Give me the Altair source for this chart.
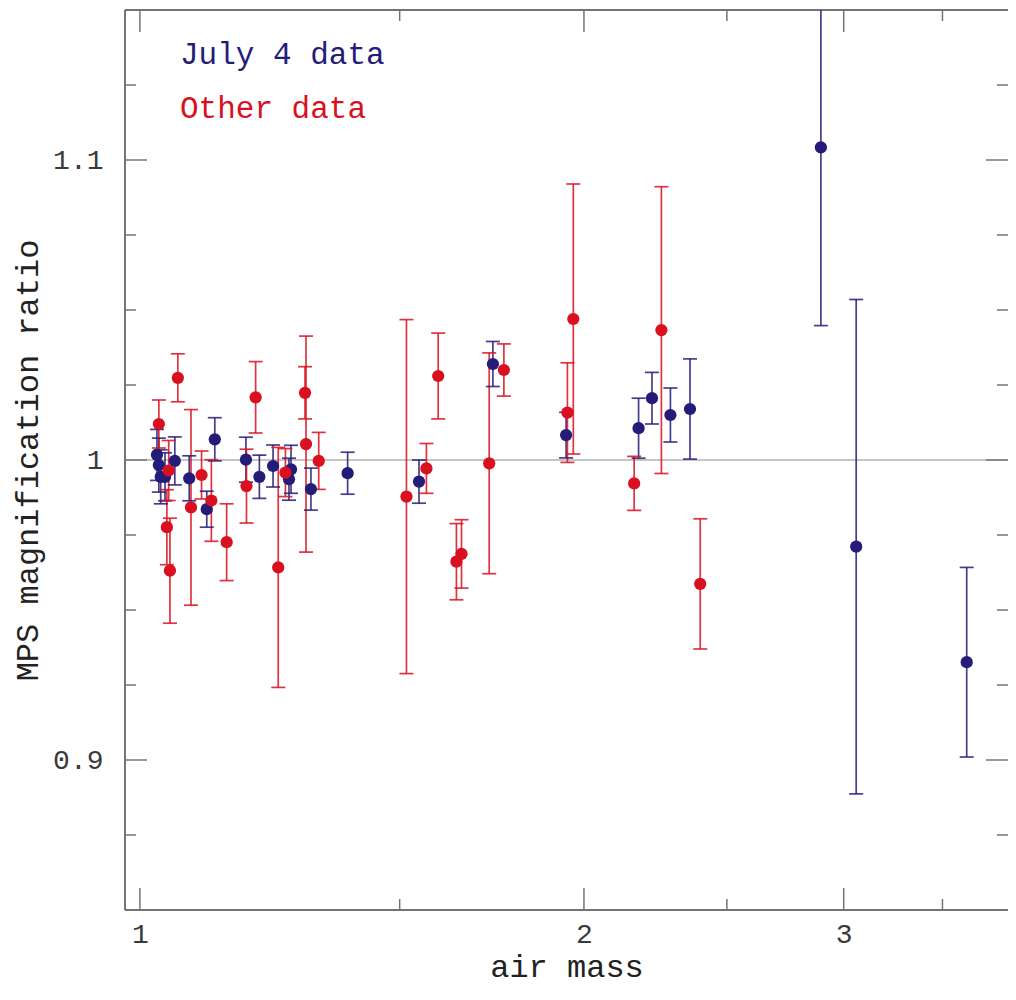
import altair as alt
import pandas as pd

# ---------------- data ----------------
series_names = ["July 4 data", "Other data"]

blue_airmass = [1.027, 1.030, 1.033, 1.040, 1.056, 1.080, 1.110, 1.124, 1.180,
                1.205, 1.231, 1.262, 1.266, 1.306, 1.383, 1.546, 1.735, 1.945,
                2.178, 2.224, 2.289, 2.360, 2.895, 3.059, 3.635]
blue_ratio = [1.0017, 0.9983, 0.9944, 0.9944, 0.9997, 0.9939, 0.9836, 1.0069, 1.0001,
              0.9944, 0.9980, 0.9936, 0.9969, 0.9903, 0.9956, 0.9928, 1.0320, 1.0083,
              1.0106, 1.0206, 1.0150, 1.0170, 1.1042, 0.9711, 0.9326]
blue_err = [0.0085, 0.0090, 0.0090, 0.0080, 0.0080, 0.0075, 0.0060, 0.0072, 0.0075,
            0.0072, 0.0070, 0.0070, 0.0080, 0.0070, 0.0070, 0.0072, 0.0075, 0.0076,
            0.0100, 0.0086, 0.0090, 0.0167, 0.0594, 0.0824, 0.0316]

red_airmass = [1.030, 1.061, 1.046, 1.043, 1.048, 1.083, 1.101, 1.118, 1.145,
               1.181, 1.198, 1.241, 1.255, 1.294, 1.296, 1.322, 1.516, 1.564,
               1.593, 1.639, 1.652, 1.725, 1.765, 1.949, 1.967, 2.163, 2.257, 2.398]
red_ratio = [1.0120, 1.0274, 0.9965, 0.9776, 0.9631, 0.9842, 0.9950, 0.9865, 0.9726,
             0.9913, 1.0209, 0.9642, 0.9958, 1.0224, 1.0053, 0.9997, 0.9878, 0.9972,
             1.0280, 0.9661, 0.9687, 0.9989, 1.0300, 1.0158, 1.0470, 0.9922, 1.0433,
             0.9587]
red_err = [0.0080, 0.0080, 0.0100, 0.0125, 0.0175, 0.0326, 0.0080, 0.0136, 0.0128,
           0.0123, 0.0119, 0.0400, 0.0080, 0.0087, 0.0360, 0.0095, 0.0590, 0.0083,
           0.0143, 0.0127, 0.0114, 0.0368, 0.0087, 0.0166, 0.0450, 0.0090, 0.0478,
           0.0217]

x_major_ticks = [1, 2, 3]
x_minor_ticks = [1.5, 2.5, 3.5]
y_major_ticks = [0.9, 1.0, 1.1]
y_minor_ticks = [0.875, 0.925, 0.95, 0.975, 1.025, 1.05, 1.075, 1.125]
reference_level = [1.0]

# ---------------- styling ----------------
W, H = 883, 900
X_DOMAIN = [0.977, 3.877]
Y_DOMAIN = [0.85, 1.15]
MONO = "Liberation Mono"
BLUE_PT, RED_PT = "#241c78", "#d9101f"
FRAME = "#747474"
TEXT = "#3a3a3a"
MAJOR_LEN, MINOR_LEN = 22, 11

# ---------------- tables ----------------
df = pd.concat([
    pd.DataFrame({"series": series_names[0], "airmass": blue_airmass,
                  "ratio": blue_ratio, "err": blue_err}),
    pd.DataFrame({"series": series_names[1], "airmass": red_airmass,
                  "ratio": red_ratio, "err": red_err}),
], ignore_index=True)
df["lo"] = df["ratio"] - df["err"]
df["hi"] = df["ratio"] + df["err"]

xs = alt.Scale(type="log", domain=X_DOMAIN, nice=False)
ys = alt.Scale(domain=Y_DOMAIN, nice=False, zero=False)
cs = alt.Scale(domain=series_names, range=[BLUE_PT, RED_PT])

x_axis = alt.Axis(values=x_major_ticks, format="~g", title="air mass",
                  labelPadding=10, titlePadding=3)
y_axis = alt.Axis(values=y_major_ticks, format="~g",
                  title="MPS magnification ratio",
                  labelPadding=22, titlePadding=8)

base = alt.Chart(df)

err_rules = base.mark_rule(strokeWidth=1.7, opacity=0.85, clip=True).encode(
    x=alt.X("airmass:Q", scale=xs, axis=x_axis),
    y=alt.Y("lo:Q", scale=ys, axis=y_axis),
    y2="hi:Q",
    color=alt.Color("series:N", scale=cs, legend=None),
)

err_caps = base.transform_fold(["lo", "hi"], as_=["end", "yv"]).mark_tick(
    orient="horizontal", size=14, thickness=1.7, opacity=0.85, clip=True
).encode(
    x=alt.X("airmass:Q", scale=xs, axis=x_axis),
    y=alt.Y("yv:Q", scale=ys, axis=y_axis),
    color=alt.Color("series:N", scale=cs, legend=None),
)

points = base.mark_circle(size=150, opacity=1).encode(
    x=alt.X("airmass:Q", scale=xs, axis=x_axis),
    y=alt.Y("ratio:Q", scale=ys, axis=y_axis),
    color=alt.Color("series:N", scale=cs, legend=None),
)

ref_line = alt.Chart(pd.DataFrame({"v": reference_level})).mark_rule(
    color="#8c8c8c", strokeWidth=1.2
).encode(y=alt.Y("v:Q", scale=ys, axis=y_axis))

# frame: left, top and bottom sides (the right side lies past the picture's edge)
frame_layers = [
    alt.Chart(pd.DataFrame({"v": [0]})).mark_rule(color=FRAME, strokeWidth=2).encode(x=alt.value(0)),
    alt.Chart(pd.DataFrame({"v": [0]})).mark_rule(color=FRAME, strokeWidth=2).encode(y=alt.value(0)),
    alt.Chart(pd.DataFrame({"v": [0]})).mark_rule(color=FRAME, strokeWidth=2).encode(y=alt.value(H)),
]


def legend_text(name, baseline_y):
    return alt.Chart(pd.DataFrame({"label": [name]})).mark_text(
        font=MONO, fontSize=31, align="left", baseline="alphabetic"
    ).encode(
        text="label:N",
        color=alt.Color("label:N", scale=cs, legend=None),
        x=alt.value(55), y=alt.value(baseline_y),
    )


def yticks(values, length):
    d = alt.Chart(pd.DataFrame({"v": values}))
    left = d.mark_rule(color=FRAME, strokeWidth=1.5).encode(
        y=alt.Y("v:Q", scale=ys, axis=y_axis), x=alt.value(0), x2=alt.value(length))
    right = d.mark_rule(color=FRAME, strokeWidth=1.5).encode(
        y=alt.Y("v:Q", scale=ys, axis=y_axis), x=alt.value(W), x2=alt.value(W - length))
    return [left, right]


def xticks(values, length):
    d = alt.Chart(pd.DataFrame({"v": values}))
    bottom = d.mark_rule(color=FRAME, strokeWidth=1.5).encode(
        x=alt.X("v:Q", scale=xs, axis=x_axis), y=alt.value(H), y2=alt.value(H - length))
    top = d.mark_rule(color=FRAME, strokeWidth=1.5).encode(
        x=alt.X("v:Q", scale=xs, axis=x_axis), y=alt.value(0), y2=alt.value(length))
    return [bottom, top]


tick_layers = (yticks(y_major_ticks, MAJOR_LEN) + yticks(y_minor_ticks, MINOR_LEN)
               + xticks(x_major_ticks, MAJOR_LEN) + xticks(x_minor_ticks, MINOR_LEN))

chart = alt.layer(
    ref_line, *frame_layers, *tick_layers, err_rules, err_caps, points,
    legend_text(series_names[0], 54), legend_text(series_names[1], 108),
).properties(
    width=W, height=H,
    autosize=alt.AutoSizeParams(type="none"),
    padding={"left": 117, "top": 2, "right": 0, "bottom": 76},
    background="white",
).configure_view(
    stroke=None
).configure_axis(
    ticks=False, domain=False, grid=False,
    labelFont=MONO, labelFontSize=28, labelColor=TEXT, labelFlush=False,
    titleFont=MONO, titleFontSize=32, titleFontWeight="normal", titleColor="#222222",
)

chart.save("out.html", embed_options={"renderer": "svg", "actions": False})
